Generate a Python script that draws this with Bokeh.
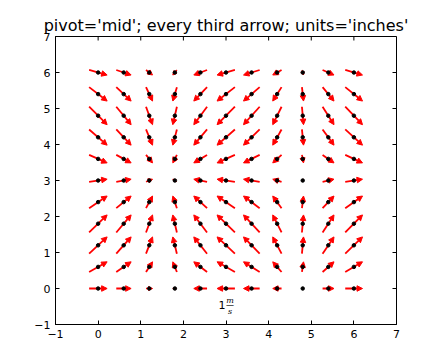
import numpy as np
from bokeh.plotting import figure
from bokeh.models import (ColumnDataSource, Arrow, NormalHead, LinearAxis,
                          FixedTicker, Label)
from bokeh.core.properties import field
from bokeh.embed import file_html
from bokeh.resources import INLINE

# ---- data ----
x_levels = [0.0, 0.6, 1.2, 1.8, 2.4, 3.0, 3.6, 4.2, 4.8, 5.4, 6.0]
y_levels = [0.0, 0.6, 1.2, 1.8, 2.4, 3.0, 3.6, 4.2, 4.8, 5.4, 6.0]
u_by_column = [1.000, 0.825, 0.362, -0.227, -0.737, -0.990, -0.897, -0.490, 0.087, 0.635, 0.960]
v_by_row = [0.000, 0.565, 0.932, 0.974, 0.675, 0.141, -0.443, -0.872, -0.996, -0.773, -0.279]
tick_values = [-1, 0, 1, 2, 3, 4, 5, 6, 7]
title_text = "pivot='mid'; every third arrow; units='inches'"

# ---- build grid table ----
X, Y = np.meshgrid(x_levels, y_levels)
U, _ = np.meshgrid(u_by_column, y_levels)
_, V = np.meshgrid(x_levels, v_by_row)
X, Y, U, V = X.ravel(), Y.ravel(), U.ravel(), V.ravel()

W, H = 440, 360
ML, MR, MT, MB = 55, 44, 36, 36
px_x = (W - ML - MR) / 8.0   # pixels per data unit (x)
px_y = (H - MT - MB) / 8.0   # pixels per data unit (y)
PX_PER_MAG = 18.0            # arrow length in pixels per unit magnitude
HEAD = 5.5
TICK = 4.0

mag_px = np.hypot(U, V) * PX_PER_MAG
shrink = np.clip(mag_px / 9.0, 0, 1)
dx = U * PX_PER_MAG / px_x / 2
dy = V * PX_PER_MAG / px_y / 2

src = ColumnDataSource(dict(x0=X - dx, y0=Y - dy, x1=X + dx, y1=Y + dy,
                            hs=HEAD * shrink, lw=1.8 * shrink))

p = figure(width=W, height=H, x_range=(-1, 7), y_range=(-1, 7),
           output_backend="svg", toolbar_location=None,
           min_border_left=ML, min_border_right=MR,
           min_border_top=MT, min_border_bottom=MB,
           x_axis_location=None, y_axis_location=None)
p.grid.visible = False
p.outline_line_color = "black"
p.outline_line_width = 1
p.background_fill_color = "white"
p.border_fill_color = "white"

p.title.text = title_text
p.title.text_font = "DejaVu Sans"
p.title.text_font_size = "16px"
p.title.text_font_style = "normal"
p.title.align = "center"
p.title.text_color = "black"
p.title.standoff = 4

ticker = FixedTicker(ticks=tick_values)


def make_axis():
    ax = LinearAxis(ticker=ticker)
    ax.major_tick_in = 4
    ax.major_tick_out = 0
    ax.minor_tick_in = 0
    ax.minor_tick_out = 0
    ax.axis_line_color = "black"
    ax.major_tick_line_color = "black"
    ax.major_label_text_font = "DejaVu Sans"
    ax.major_label_text_color = "black"
    ax.major_label_text_font_size = "11px"
    ax.major_label_standoff = 5
    return ax


p.add_layout(make_axis(), "below")
p.add_layout(make_axis(), "left")

# inward tick marks on the top and right edges of the frame
tv = np.array(tick_values, dtype=float)
top = np.full_like(tv, 7.0)
p.segment(x0=tv, y0=top, x1=tv, y1=top - TICK / px_y, line_color="black",
          line_width=1)
p.segment(x0=top, y0=tv, x1=top - TICK / px_x, y1=tv, line_color="black",
          line_width=1)

arrows = Arrow(source=src, x_start="x0", y_start="y0", x_end="x1", y_end="y1",
               line_color="red", line_width=field("lw"),
               end=NormalHead(size=field("hs"), fill_color="red",
                              line_color="red", line_width=1),
               level="underlay")
p.add_layout(arrows)

p.scatter(X, Y, size=3.5, color="black")

# quiver key label: 1 m/s
KEY_X, KEY_Y = 3.0, -0.45
p.add_layout(Label(x=KEY_X, y=KEY_Y, text="1", text_font="DejaVu Sans",
                   text_font_size="11px", text_align="right",
                   text_color="black", text_baseline="middle",
                   x_offset=-0.5, y_offset=0))
p.add_layout(Label(x=KEY_X, y=KEY_Y, text="m", text_font="DejaVu Serif",
                   text_font_style="italic", text_font_size="8px",
                   text_align="center", text_color="black",
                   text_baseline="bottom", x_offset=4, y_offset=0))
p.add_layout(Label(x=KEY_X, y=KEY_Y, text="s", text_font="DejaVu Serif",
                   text_font_style="italic", text_font_size="8px",
                   text_align="center", text_color="black",
                   text_baseline="top", x_offset=4, y_offset=-2))
p.add_layout(Label(x=KEY_X, y=KEY_Y, text="\u2014", text_font="DejaVu Sans",
                   text_font_size="8px", text_align="center",
                   text_color="black", text_baseline="middle",
                   x_offset=4, y_offset=-1))

open("out.html", "w").write(file_html(p, INLINE))
